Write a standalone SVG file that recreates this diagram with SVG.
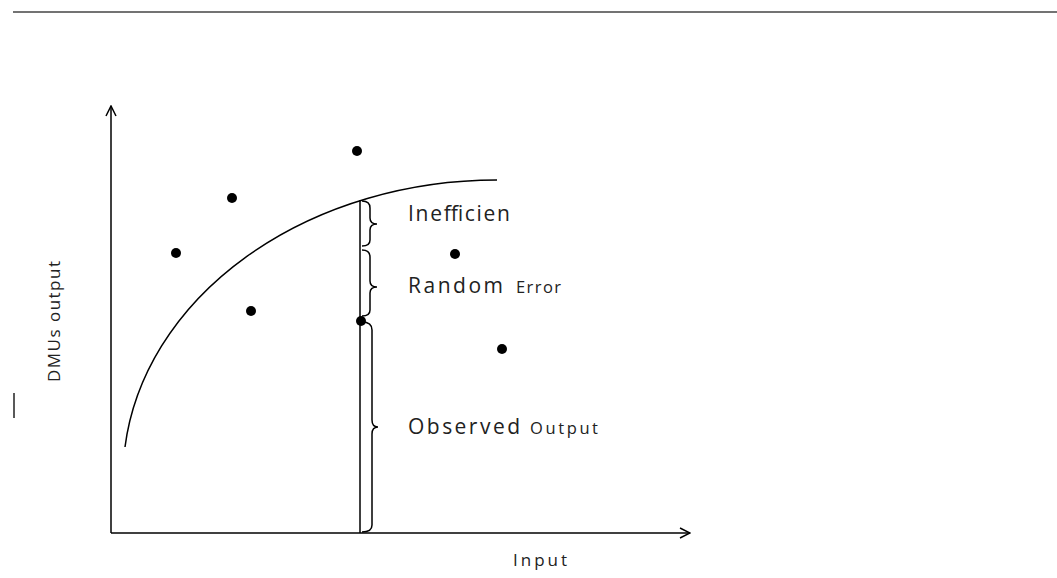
<svg xmlns="http://www.w3.org/2000/svg" width="1057" height="578" viewBox="0 0 1057 578">
<style>
.ln{stroke:#000;stroke-width:1.5;fill:none}
.t{font-family:"Open Sans","Noto Sans",sans-serif;fill:#222}
.big{font-size:21px}
.sm{font-size:16.5px}
</style>
<defs>
<marker id="ah" viewBox="0 0 12 12" refX="11" refY="6" markerWidth="12" markerHeight="12" markerUnits="userSpaceOnUse" orient="auto">
<path d="M1,1 L11,6 L1,11" fill="none" stroke="#000" stroke-width="1.5"/>
</marker>
</defs>
<rect width="1057" height="578" fill="#fff"/>
<line x1="13" y1="12" x2="1057" y2="12" stroke="#444" stroke-width="1.5"/>
<g id="axes">
<line class="ln" x1="111" y1="533" x2="111" y2="106" marker-end="url(#ah)"/>
<line class="ln" x1="111" y1="533" x2="690" y2="533" marker-end="url(#ah)"/>
</g>
<g id="frontier">
<path class="ln" d="M125,447 A374,297.7 0 0 1 497,180"/>
</g>
<g id="connectors">
<line class="ln" x1="360" y1="200" x2="360" y2="533"/>
<path class="ln" d="M362,201 Q370,201 370,208 L370,218 Q370,224 377,224 Q370,224 370,230 L370,240 Q370,246 362,246"/>
<path class="ln" d="M362,250 Q370,250 370,257 L370,281 Q370,287 377,287 Q370,287 370,293 L370,310 Q370,316 362,316"/>
<path class="ln" d="M362,322 Q372,322 372,330 L372,420 Q372,427 378,427 Q372,427 372,434 L372,525 Q372,532 362,532"/>
</g>
<g id="points" fill="#000">
<circle cx="357" cy="151" r="5"/>
<circle cx="232" cy="198" r="5"/>
<circle cx="176" cy="253" r="5"/>
<circle cx="455" cy="254" r="5"/>
<circle cx="251" cy="311" r="5"/>
<circle cx="361" cy="321" r="5"/>
<circle cx="502" cy="349" r="5"/>
</g>
<g id="labels">
<text class="t big" x="408" y="221" textLength="102" lengthAdjust="spacing">Inefficien</text>
<text class="t big" x="408" y="293" textLength="95" lengthAdjust="spacing">Random</text>
<text class="t sm" x="516" y="293" textLength="45" lengthAdjust="spacing">Error</text>
<text class="t big" x="408" y="434" textLength="112" lengthAdjust="spacing">Observed</text>
<text class="t sm" x="530" y="434" textLength="68" lengthAdjust="spacing">Output</text>
<text class="t" x="513" y="566" style="font-size:17px" textLength="54" lengthAdjust="spacing">Input</text>
<text class="t" transform="translate(60,382) rotate(-90)" style="font-size:17px" textLength="121" lengthAdjust="spacing">DMUs output</text>
<line x1="14" y1="393" x2="14" y2="418" stroke="#222" stroke-width="1.5"/>
</g>
</svg>
